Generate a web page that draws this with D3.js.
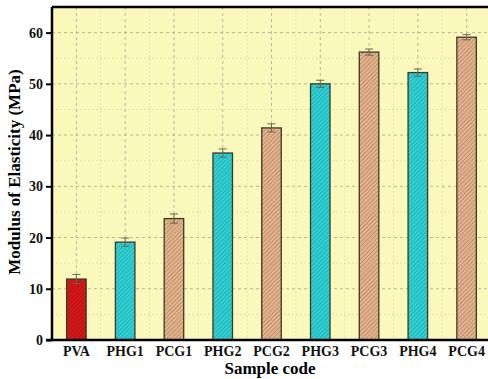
<!DOCTYPE html>
<html>
<head>
<meta charset="utf-8">
<script src="https://cdn.jsdelivr.net/npm/d3@7"></script>
<style>
  body { margin: 0; background: #fff; }
  text { font-family: "Liberation Serif", "Times New Roman", serif; font-weight: bold; }
</style>
</head>
<body>
<div id="vis-svg"></div>
<script>
var samples = ["PVA", "PHG1", "PCG1", "PHG2", "PCG2", "PHG3", "PCG3", "PHG4", "PCG4"];
var modulus = [11.9, 19.1, 23.7, 36.5, 41.4, 50.0, 56.2, 52.2, 59.1];
var errors = [0.9, 0.8, 0.9, 0.8, 0.8, 0.7, 0.6, 0.7, 0.5];
var groups = ["pva", "phg", "pcg", "phg", "pcg", "phg", "pcg", "phg", "pcg"];
var yTicks = [0, 10, 20, 30, 40, 50, 60];

var width = 488;
var height = 379;
var margin = {top: 7, right: -3, bottom: 39, left: 52};
var innerW = width - margin.left - margin.right;
var innerH = height - margin.top - margin.bottom;

var fills = {pva: "#d81818", phg: "#2fd3d6", pcg: "#e5b48c"};
var hatch = {pva: "#8a0c0c", phg: "#1a8a90", pcg: "#9a6a48"};

var svg = d3.select("#vis-svg")
  .append("svg")
  .attr("width", width)
  .attr("height", height);

// hatch patterns
var defs = svg.append("defs");
Object.keys(fills).forEach(function (k) {
  var p = defs.append("pattern")
    .attr("id", "hatch-" + k)
    .attr("patternUnits", "userSpaceOnUse")
    .attr("width", 3).attr("height", 3)
    .attr("patternTransform", "rotate(45)");
  p.append("rect").attr("width", 3).attr("height", 3).attr("fill", fills[k]);
  p.append("line").attr("x1", 0).attr("y1", 0).attr("x2", 0).attr("y2", 3)
    .attr("stroke", hatch[k]).attr("stroke-width", 1);
});

var g = svg.append("g").attr("transform", "translate(" + margin.left + "," + margin.top + ")");

var x = d3.scaleBand().domain(samples).range([0, innerW]).paddingInner(0.6).paddingOuter(0.3);
var y = d3.scaleLinear().domain([0, 65]).range([innerH, 0]);

// background
g.append("rect").attr("width", innerW).attr("height", innerH).attr("fill", "#fbf8bb");

// minor grid
var minorY = d3.range(5, 65, 10);
g.selectAll(".minor-y").data(minorY).enter().append("line")
  .attr("x1", 0).attr("x2", innerW)
  .attr("y1", function (d) { return y(d); }).attr("y2", function (d) { return y(d); })
  .attr("stroke", "#dcdcb0").attr("stroke-dasharray", "2,2").attr("stroke-width", 0.8);
var step = x.step();
g.selectAll(".minor-x").data(samples).enter().append("line")
  .attr("x1", function (d) { return x(d) + x.bandwidth() / 2 + step / 2; })
  .attr("x2", function (d) { return x(d) + x.bandwidth() / 2 + step / 2; })
  .attr("y1", 0).attr("y2", innerH)
  .attr("stroke", "#dcdcb0").attr("stroke-dasharray", "2,2").attr("stroke-width", 0.8);

// major grid
g.selectAll(".major-y").data(yTicks.slice(1)).enter().append("line")
  .attr("x1", 0).attr("x2", innerW)
  .attr("y1", function (d) { return y(d); }).attr("y2", function (d) { return y(d); })
  .attr("stroke", "#b0b09a").attr("stroke-dasharray", "3,3").attr("stroke-width", 0.9);
g.selectAll(".major-x").data(samples).enter().append("line")
  .attr("x1", function (d) { return x(d) + x.bandwidth() / 2; })
  .attr("x2", function (d) { return x(d) + x.bandwidth() / 2; })
  .attr("y1", 0).attr("y2", innerH)
  .attr("stroke", "#b0b09a").attr("stroke-dasharray", "3,3").attr("stroke-width", 0.9);

// bars
g.selectAll(".bar").data(samples).enter().append("rect")
  .attr("x", function (d) { return x(d); })
  .attr("width", x.bandwidth())
  .attr("y", function (d, i) { return y(modulus[i]); })
  .attr("height", function (d, i) { return innerH - y(modulus[i]); })
  .attr("fill", function (d, i) { return "url(#hatch-" + groups[i] + ")"; })
  .attr("stroke", "#3a3a2a").attr("stroke-width", 1.3);

// error bars
var eb = g.selectAll(".err").data(samples).enter().append("g")
  .attr("stroke", "#6b6650").attr("stroke-width", 1);
eb.append("line")
  .attr("x1", function (d) { return x(d) + x.bandwidth() / 2; })
  .attr("x2", function (d) { return x(d) + x.bandwidth() / 2; })
  .attr("y1", function (d, i) { return y(modulus[i] - errors[i]); })
  .attr("y2", function (d, i) { return y(modulus[i] + errors[i]); });
[-1, 1].forEach(function (s) {
  eb.append("line")
    .attr("x1", function (d) { return x(d) + x.bandwidth() / 2 - 4; })
    .attr("x2", function (d) { return x(d) + x.bandwidth() / 2 + 4; })
    .attr("y1", function (d, i) { return y(modulus[i] + s * errors[i]); })
    .attr("y2", function (d, i) { return y(modulus[i] + s * errors[i]); });
});

// axes
var yAxis = g.append("g")
  .call(d3.axisLeft(y).tickValues(yTicks).tickSize(6).tickPadding(3));
yAxis.selectAll("text").attr("font-size", 14).attr("fill", "#111");
yAxis.selectAll("line").attr("stroke-width", 2);
yAxis.select(".domain").remove();

var xAxis = g.append("g").attr("transform", "translate(0," + innerH + ")")
  .call(d3.axisBottom(x).tickSize(0).tickPadding(6));
xAxis.selectAll("text").attr("font-size", 14).attr("fill", "#111");
xAxis.select(".domain").remove();

// frame lines
g.append("line").attr("x1", 0).attr("x2", 0).attr("y1", 0).attr("y2", innerH)
  .attr("stroke", "#000").attr("stroke-width", 2.5);
g.append("line").attr("x1", -6).attr("x2", innerW).attr("y1", innerH).attr("y2", innerH)
  .attr("stroke", "#000").attr("stroke-width", 2.5);
g.append("line").attr("x1", 0).attr("x2", innerW).attr("y1", 0).attr("y2", 0)
  .attr("stroke", "#000").attr("stroke-width", 2.5);

// titles
svg.append("text")
  .attr("transform", "translate(20,172) rotate(-90)")
  .attr("text-anchor", "middle")
  .attr("font-size", 17)
  .text("Modulus of Elasticity (MPa)");
svg.append("text")
  .attr("x", 270).attr("y", 374)
  .attr("text-anchor", "middle")
  .attr("font-size", 17)
  .text("Sample code");
</script>
</body>
</html>
